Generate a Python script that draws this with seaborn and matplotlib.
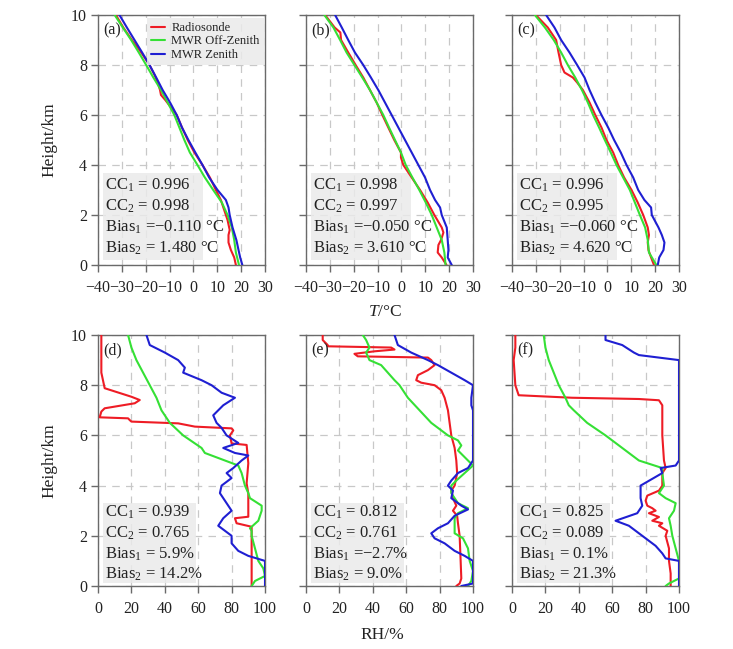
import matplotlib
matplotlib.use("Agg")
import matplotlib.pyplot as plt
import seaborn as sns
import numpy as np
from matplotlib.patches import Rectangle

# ---------------- data ----------------
series_names = ["Radiosonde", "MWR Off-Zenith", "MWR Zenith"]
series_colors = ["#ee1c25", "#35e035", "#1f1fd2"]

# (a) temperature
a_h_rs = [0, 0.3, 0.6, 0.9, 1.2, 1.4, 1.8, 2.2, 2.6, 3.0, 3.5, 4.0, 4.5, 5.0, 5.5, 6.0, 6.3, 6.6, 6.8, 7.0, 7.3, 7.6, 8.0, 8.3, 8.6, 9.0, 9.5, 10.0]
a_t_rs = [17.8, 17.1, 15.7, 14.7, 14.7, 15.2, 14.3, 12.9, 11.5, 9.4, 6.9, 3.8, 0.4, -2.4, -4.8, -7.0, -9.4, -11.8, -13.6, -14.0, -15.0, -16.3, -18.4, -20.5, -22.6, -25.8, -29.4, -32.5]
a_h_off = [0, 0.5, 1, 1.5, 2, 2.5, 3, 3.5, 4, 4.5, 5, 5.5, 6, 6.5, 7, 7.5, 8, 8.5, 9, 9.5, 10]
a_t_off = [19.1, 17.8, 17.1, 16.1, 14.3, 11.9, 8.3, 4.8, 1.7, -1.5, -3.8, -5.9, -8.0, -10.8, -13.6, -16.8, -19.8, -22.9, -26.1, -29.6, -33.0]
a_h_zen = [0, 0.3, 0.6, 1, 1.5, 2, 2.3, 2.6, 3, 3.5, 4, 4.5, 5, 5.5, 6, 6.5, 7, 7.5, 8, 8.5, 9, 9.5, 10]
a_t_zen = [20.5, 19.6, 18.9, 18.0, 16.4, 15.2, 14.7, 13.6, 10.1, 6.6, 3.8, 0.8, -2.1, -4.8, -7.0, -9.8, -12.9, -15.6, -18.4, -21.5, -24.7, -27.9, -31.0]

# (b) temperature
b_h_rs = [0, 0.3, 0.5, 0.8, 1.0, 1.3, 1.5, 2.0, 2.5, 3.0, 3.5, 4.0, 4.3, 4.5, 5.0, 5.5, 6.0, 6.5, 7.0, 7.5, 8.0, 8.5, 9.0, 9.3, 9.5, 10]
b_t_rs = [18.9, 16.9, 15.2, 15.5, 16.6, 17.6, 16.9, 13.8, 11.0, 7.8, 4.3, 0.8, -0.2, -0.2, -3.0, -5.5, -8.0, -10.4, -13.2, -16.0, -19.2, -22.3, -25.3, -25.6, -28.0, -32.0]
b_h_off = [0, 0.5, 1.0, 1.5, 2.0, 2.5, 3.0, 3.5, 4.0, 4.5, 5.0, 5.5, 6.0, 6.5, 7.0, 7.5, 8.0, 8.5, 9.0, 9.5, 10]
b_t_off = [18.5, 18.0, 16.9, 14.8, 12.7, 10.2, 7.5, 4.6, 1.8, -0.2, -2.7, -5.2, -7.6, -10.4, -13.2, -16.4, -19.7, -23.0, -25.7, -28.5, -32.3]
b_h_zen = [0, 0.3, 0.6, 1.0, 1.5, 2.0, 2.3, 2.6, 3.0, 3.5, 4.0, 4.5, 5.0, 5.5, 6.0, 6.5, 7.0, 7.5, 8.0, 8.5, 9.0, 9.5, 10]
b_t_zen = [21.1, 19.4, 19.7, 19.4, 19.0, 16.9, 16.2, 14.1, 12.0, 9.9, 7.1, 4.3, 1.5, -1.3, -4.1, -6.9, -9.7, -12.8, -16.0, -19.5, -22.3, -25.0, -27.8]

# (c) temperature
c_h_rs = [0, 0.3, 0.6, 0.9, 1.2, 1.5, 2.0, 2.5, 3.0, 3.5, 4.0, 4.5, 5.0, 5.5, 6.0, 6.5, 7.0, 7.3, 7.5, 7.7, 8.0, 8.5, 9.0, 9.5, 10]
c_t_rs = [19.5, 18.3, 17.2, 16.9, 17.4, 16.9, 15.0, 12.7, 10.1, 7.0, 4.5, 2.4, -0.4, -2.5, -5.1, -7.5, -10.3, -12.7, -14.5, -18.0, -19.4, -20.5, -21.5, -25.0, -30.0]
c_h_off = [0, 0.5, 1.0, 1.5, 2.0, 2.5, 3.0, 3.5, 4.0, 4.5, 5.0, 5.5, 6.0, 6.5, 7.0, 7.5, 8.0, 8.5, 9.0, 9.5, 10]
c_t_off = [20.5, 17.4, 16.9, 15.8, 13.6, 11.5, 9.4, 6.6, 3.8, 1.4, -1.1, -3.5, -6.0, -8.2, -10.7, -13.5, -16.6, -19.4, -22.5, -26.2, -30.4]
c_h_zen = [0, 0.3, 0.6, 0.9, 1.2, 1.5, 2.0, 2.3, 2.6, 3.0, 3.5, 4.0, 4.5, 5.0, 5.5, 6.0, 6.5, 7.0, 7.5, 8.0, 8.5, 9.0, 9.5, 10]
c_t_zen = [21.1, 21.7, 23.5, 23.9, 22.8, 21.4, 18.6, 18.3, 15.5, 12.9, 10.8, 8.0, 5.6, 2.8, 0.3, -2.5, -5.1, -7.5, -9.6, -12.7, -15.9, -19.4, -22.2, -25.7]

# (d) relative humidity
d_h_rs = [0, 0.9, 2.36, 2.5, 2.7, 2.76, 3.43, 3.69, 4.09, 4.89, 5.62, 5.68, 6.0, 6.2, 6.28, 6.35, 6.48, 6.55, 6.61, 6.68, 6.72, 6.95, 7.08, 7.28, 7.41, 7.54, 7.88, 8.5, 9.0, 9.5, 10]
d_rh_rs = [92, 92, 92, 83, 82, 90, 90, 90, 89, 90, 89, 80, 79, 81, 80, 58, 48, 20, 19, 18, 1, 2, 4, 22, 25, 20, 4, 2, 2, 2, 2]
d_h_off = [0, 0.2, 0.4, 0.7, 1.0, 1.5, 2.0, 2.2, 2.3, 2.6, 3.0, 3.2, 3.5, 3.7, 4.0, 4.5, 4.8, 5.0, 5.3, 5.5, 6.0, 6.5, 7.0, 7.5, 8.0, 8.5, 9.0, 9.5, 10]
d_rh_off = [92, 94, 100, 99, 96, 94, 92, 92, 91, 96, 98, 98, 91, 90, 88, 86, 84, 76, 64, 62, 51, 43, 38, 35, 31, 27, 23, 20, 18]
d_h_zen = [0, 0.5, 1.0, 1.2, 1.4, 1.7, 2.0, 2.2, 2.4, 2.7, 3.0, 3.3, 3.7, 4.0, 4.3, 4.5, 4.7, 5.0, 5.2, 5.3, 5.5, 5.7, 6.0, 6.3, 6.5, 6.8, 7.0, 7.2, 7.5, 7.7, 8.0, 8.2, 8.5, 8.7, 9.0, 9.3, 9.6, 10]
d_rh_zen = [100, 100, 100, 90, 84, 80, 80, 76, 72, 75, 80, 77, 73, 74, 80, 77, 81, 86, 90, 82, 75, 84, 77, 74, 71, 69, 72, 75, 82, 74, 68, 62, 51, 52, 48, 40, 31, 29]

# (e) relative humidity
e_h_rs = [0, 0.1, 0.3, 1.0, 2.0, 2.5, 2.8, 3.0, 3.2, 3.5, 3.8, 4.0, 4.5, 5.0, 5.5, 6.0, 6.5, 7.0, 7.5, 7.8, 8.0, 8.1, 8.2, 8.4, 8.6, 8.8, 9.0, 9.1, 9.15, 9.25, 9.35, 9.42, 9.5, 9.55, 9.6, 9.8, 10]
e_rh_rs = [90, 92, 93, 92.6, 92, 91, 90.5, 88, 90, 88, 87, 89, 90.5, 90, 89, 87, 86, 85, 83, 81, 77, 69, 66, 67, 73, 77, 75, 73, 31, 29, 41, 53, 51, 13, 13, 10, 10]
e_h_off = [0, 0.2, 0.6, 1.0, 1.5, 1.9, 2.1, 2.4, 2.7, 2.9, 3.1, 3.3, 3.7, 4.0, 4.2, 4.5, 4.8, 5.0, 5.2, 5.4, 5.6, 5.8, 6.0, 6.5, 7.0, 7.5, 8.0, 8.2, 8.5, 8.8, 9.0, 9.3, 9.5, 9.8, 10]
e_rh_off = [97, 99, 100, 98, 97, 94, 89, 89, 89, 91, 97, 91, 87, 87, 90, 95, 100, 97, 94, 91, 93, 91, 85, 75, 68, 61, 56, 53, 49, 45, 38, 36, 38, 36, 34]
e_h_zen = [0, 0.1, 1.0, 1.2, 1.4, 1.7, 1.9, 2.1, 2.3, 2.5, 2.8, 3.05, 3.2, 3.5, 3.8, 4.0, 4.2, 4.5, 4.7, 5.0, 7.0, 7.2, 7.5, 8.0, 8.2, 8.5, 8.8, 9.0, 9.3, 9.6, 10]
e_rh_zen = [93, 100, 100, 95, 89, 83, 77, 75, 79, 85, 89, 97, 93, 87, 88, 85, 87, 91, 97, 100, 100, 99, 99, 100, 95, 87, 79, 73, 63, 55, 53]

# (f) relative humidity
f_h_rs = [0, 0.5, 1.0, 1.5, 2.0, 2.2, 2.4, 2.5, 2.6, 2.75, 2.9, 3.0, 3.1, 3.2, 3.4, 3.6, 3.8, 4.0, 4.5, 4.7, 5.0, 6.0, 7.0, 7.2, 7.4, 7.45, 7.5, 7.6, 7.8, 8.0, 8.5, 9.0, 9.5, 10]
f_rh_rs = [95, 95, 94, 94, 92, 93, 88, 90, 84, 88, 82, 86, 84, 81, 80, 81, 88, 90, 90, 92, 91, 90, 90, 90, 88, 76, 36, 4, 3, 2, 1.5, 1, 2, 2]
f_h_off = [0, 0.1, 0.3, 1.0, 1.5, 2.0, 2.4, 2.7, 3.0, 3.3, 3.5, 3.7, 4.0, 4.5, 4.7, 5.0, 5.5, 6.0, 6.5, 7.0, 7.2, 7.5, 8.0, 8.5, 9.0, 9.5, 10]
f_rh_off = [92, 94, 100, 100, 98, 96, 95, 94, 97, 98, 92, 88, 91, 90, 90, 76, 66, 56, 45, 37, 34, 32, 28, 25, 22, 20, 19]
f_h_zen = [0, 1.0, 1.1, 1.3, 1.6, 2.0, 2.4, 2.6, 2.9, 3.2, 3.5, 4.0, 4.5, 4.7, 4.8, 5.0, 9.0, 9.2, 9.3, 9.6, 9.8, 10]
f_rh_zen = [100, 100, 92, 90, 86, 78, 70, 62, 75, 78, 77, 77, 90, 89, 98, 100, 100, 76, 73, 66, 56, 56]

panel_labels = ["(a)", "(b)", "(c)", "(d)", "(e)", "(f)"]
stats_text = [
    ["CC$_1$ = 0.996", "CC$_2$ = 0.998", "Bias$_1$ =\u22120.110 \u00b0C", "Bias$_2$ = 1.480 \u00b0C"],
    ["CC$_1$ = 0.998", "CC$_2$ = 0.997", "Bias$_1$ =\u22120.050 \u00b0C", "Bias$_2$ = 3.610 \u00b0C"],
    ["CC$_1$ = 0.996", "CC$_2$ = 0.995", "Bias$_1$ =\u22120.060 \u00b0C", "Bias$_2$ = 4.620 \u00b0C"],
    ["CC$_1$ = 0.939", "CC$_2$ = 0.765", "Bias$_1$ = 5.9%", "Bias$_2$ = 14.2%"],
    ["CC$_1$ = 0.812", "CC$_2$ = 0.761", "Bias$_1$ =\u22122.7%", "Bias$_2$ = 9.0%"],
    ["CC$_1$ = 0.825", "CC$_2$ = 0.089", "Bias$_1$ = 0.1%", "Bias$_2$ = 21.3%"],
]
t_ticks = [-40, -30, -20, -10, 0, 10, 20, 30]
rh_ticks = [0, 20, 40, 60, 80, 100]
h_ticks = [0, 2, 4, 6, 8, 10]

panels = [
    [(a_t_rs, a_h_rs), (a_t_off, a_h_off), (a_t_zen, a_h_zen)],
    [(b_t_rs, b_h_rs), (b_t_off, b_h_off), (b_t_zen, b_h_zen)],
    [(c_t_rs, c_h_rs), (c_t_off, c_h_off), (c_t_zen, c_h_zen)],
    [(d_rh_rs, d_h_rs), (d_rh_off, d_h_off), (d_rh_zen, d_h_zen)],
    [(e_rh_rs, e_h_rs), (e_rh_off, e_h_off), (e_rh_zen, e_h_zen)],
    [(f_rh_rs, f_h_rs), (f_rh_off, f_h_off), (f_rh_zen, f_h_zen)],
]

# ---------------- style ----------------
sns.set_style("white")
plt.rcParams["font.family"] = ["Liberation Serif", "DejaVu Serif"]
plt.rcParams["mathtext.fontset"] = "custom"
plt.rcParams["mathtext.rm"] = "Liberation Serif"
plt.rcParams["mathtext.it"] = "Liberation Serif:italic"
plt.rcParams["mathtext.default"] = "regular"

W, H = 733, 649
fig = plt.figure(figsize=(W / 100, H / 100), dpi=100)
fig.patch.set_facecolor("white")

lefts = [98, 306, 512]
width = 167
rows = [(15, 265), (335, 586)]
text_color = "#222222"
spine_color = "#6a6a6a"

for i in range(6):
    r, c = divmod(i, 3)
    top, bot = rows[r]
    ax = fig.add_axes([lefts[c] / W, 1 - bot / H, width / W, (bot - top) / H])
    for k, (xv, yv) in enumerate(panels[i]):
        sns.lineplot(x=xv, y=yv, ax=ax, color=series_colors[k], sort=False,
                     estimator=None, lw=1.5, label=series_names[k], zorder=3 + k)
    if r == 0:
        ax.set_xlim(-40, 30)
        ax.set_xticks(t_ticks)
        ax.set_xticklabels([str(t).replace("-", "\u2212") for t in t_ticks])
    else:
        ax.set_xlim(0, 100)
        ax.set_xticks(rh_ticks)
    ax.set_ylim(0, 10)
    ax.set_yticks(h_ticks)
    if c != 0:
        ax.set_yticklabels([])
    else:
        ax.set_ylabel("Height/km", fontsize=12.5, color=text_color)
        ax.yaxis.set_label_coords(-0.245, 0.5)
    ax.grid(True, color="#c8c8c8", linestyle=(0, (6, 5)), lw=0.9)
    ax.set_axisbelow(True)
    for s in ax.spines.values():
        s.set_color(spine_color)
        s.set_linewidth(1.0)
    ax.tick_params(axis="x", pad=6)
    ax.tick_params(axis="y", pad=3)
    ax.tick_params(direction="out", length=5, width=1.0, color=spine_color,
                   labelsize=11.5, labelcolor=text_color,
                   bottom=True, left=True)
    # stats box
    if r == 0:
        x0, x1, y0, y1 = 0.03, 0.63, 0.02, 0.37
        ys = [0.32, 0.235, 0.15, 0.068]
    else:
        x0, x1, y0, y1 = 0.03, 0.585, 0.012, 0.33
        ys = [0.292, 0.21, 0.128, 0.046]
    ax.add_patch(Rectangle((x0, y0), x1 - x0, y1 - y0, transform=ax.transAxes,
                           facecolor="#eaeaea", edgecolor="none", alpha=0.85, zorder=2))
    for j, line in enumerate(stats_text[i]):
        ax.text(0.04, ys[j], line, transform=ax.transAxes, fontsize=12,
                color=text_color, va="center", ha="left", zorder=10)
    ax.text(0.03, 0.94, panel_labels[i], transform=ax.transAxes, fontsize=11.5,
            color=text_color, va="center", ha="left", zorder=10)
    if i == 0:
        leg = ax.legend(loc="upper right", bbox_to_anchor=(0.995, 0.99), fontsize=9,
                        frameon=True, facecolor="#eaeaea", edgecolor="none",
                        framealpha=0.85, handlelength=1.1, handletextpad=0.5,
                        labelspacing=0.12, borderpad=0.35, borderaxespad=0.0,
                        fancybox=False)
        for t in leg.get_texts():
            t.set_color(text_color)
    else:
        lg = ax.get_legend()
        if lg is not None:
            lg.remove()

fig.text(385 / W, 1 - 312 / H, "$\\mathit{T}$/\u00b0C",
         ha="center", va="center", fontsize=12.5, color=text_color)
fig.text(382 / W, 1 - 635 / H, "RH/%", ha="center", va="center",
         fontsize=12.5, color=text_color)

fig.savefig("out.png", dpi=100, facecolor="white")
